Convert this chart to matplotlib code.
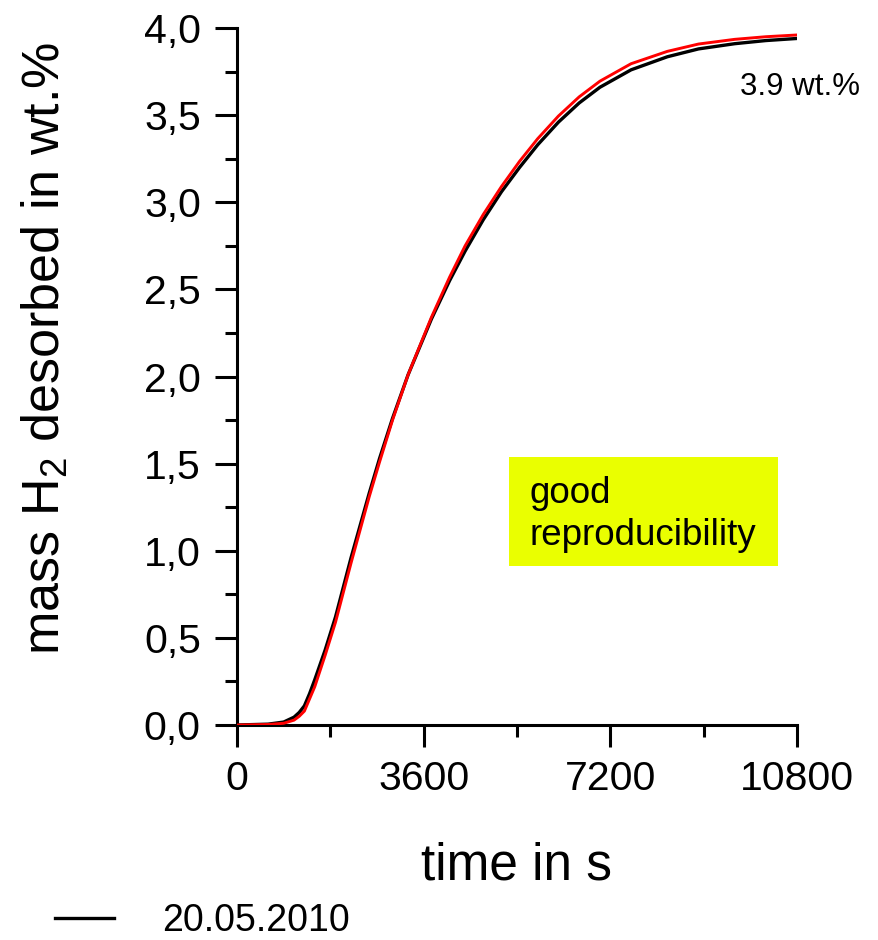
import matplotlib.pyplot as plt
from matplotlib.patches import Rectangle
from matplotlib.ticker import MultipleLocator, FuncFormatter

plt.rcParams['font.family'] = ['Liberation Sans', 'DejaVu Sans']
plt.rcParams['mathtext.fontset'] = 'custom'
plt.rcParams['mathtext.rm'] = 'Liberation Sans'
plt.rcParams['mathtext.it'] = 'Liberation Sans'

# time in s
time_s = [0, 600, 900, 1100, 1200, 1300, 1400, 1500, 1700, 1900, 2200, 2550,
          2750, 3000, 3300, 3750, 4100, 4400, 4750, 5100, 5450, 5800, 6200,
          6600, 7000, 7600, 8300, 8900, 9600, 10200, 10800]
# measurement 20.05.2010 (black)
run_black = [0, 0.005, 0.017, 0.045, 0.072, 0.11, 0.18, 0.26, 0.43, 0.62, 0.96,
             1.33, 1.53, 1.76, 2.01, 2.33, 2.55, 2.72, 2.90, 3.06, 3.20, 3.33,
             3.46, 3.57, 3.66, 3.76, 3.835, 3.88, 3.91, 3.928, 3.94]
# repeat measurement (red)
run_red = [0, 0.003, 0.01, 0.028, 0.05, 0.08, 0.15, 0.22, 0.40, 0.59, 0.93,
           1.31, 1.51, 1.75, 2.01, 2.34, 2.57, 2.75, 2.93, 3.09, 3.235, 3.365,
           3.495, 3.605, 3.695, 3.795, 3.866, 3.908, 3.935, 3.95, 3.96]

legend_label = "20.05.2010"
final_note = "3.9 wt.%"
box_lines = ["good", "reproducibility"]

fig = plt.figure(figsize=(8.79, 9.40), dpi=100)
ax = fig.add_axes([0.2696, 0.2287, 0.6371, 0.7415])

l_black, = ax.plot(time_s, run_black, color='black', lw=2.4, zorder=3)
ax.plot(time_s, run_red, color='#ff0000', lw=2.1, zorder=4)

ax.set_xlim(0, 10800)
ax.set_ylim(0, 4.0)
ax.xaxis.set_major_locator(MultipleLocator(3600))
ax.xaxis.set_minor_locator(MultipleLocator(1800))
ax.yaxis.set_major_locator(MultipleLocator(0.5))
ax.yaxis.set_minor_locator(MultipleLocator(0.25))
ax.yaxis.set_major_formatter(FuncFormatter(lambda v, p: f"{v:.1f}".replace('.', ',')))

for s in ['top', 'right']:
    ax.spines[s].set_visible(False)
for s in ['left', 'bottom']:
    ax.spines[s].set_linewidth(2.2)

ax.tick_params(axis='both', which='major', direction='out', width=2.2, labelsize=29.5)
ax.tick_params(axis='x', which='major', length=16, pad=9)
ax.tick_params(axis='y', which='major', length=16, pad=10)
ax.tick_params(axis='both', which='minor', direction='out', width=2.2, length=8.5)

ax.set_xlabel("time in s", fontsize=37)
ax.xaxis.set_label_coords(0.5, -0.167)
ax.set_ylabel("mass H$_2$ desorbed in wt.%", fontsize=37.5)
ax.yaxis.set_label_coords(-0.297, 0.54)

# yellow note box
ax.add_patch(Rectangle((5246, 0.912), 10434 - 5246, 1.538 - 0.912,
                       facecolor='#eaff00', edgecolor='none', zorder=1))
ax.text(5651, 1.274, box_lines[0], fontsize=26.5, va='baseline', ha='left', zorder=2)
ax.text(5651, 1.033, box_lines[1], fontsize=26.5, va='baseline', ha='left', zorder=2)

ax.text(9700, 3.615, final_note, fontsize=22.5, va='baseline', ha='left')

fig.legend([l_black], [legend_label], loc='center left',
           bbox_to_anchor=(0.063, 0.020), frameon=False, fontsize=27,
           handlelength=1.55, handletextpad=1.3, borderpad=0, borderaxespad=0)

fig.savefig('out.png', dpi=100)
